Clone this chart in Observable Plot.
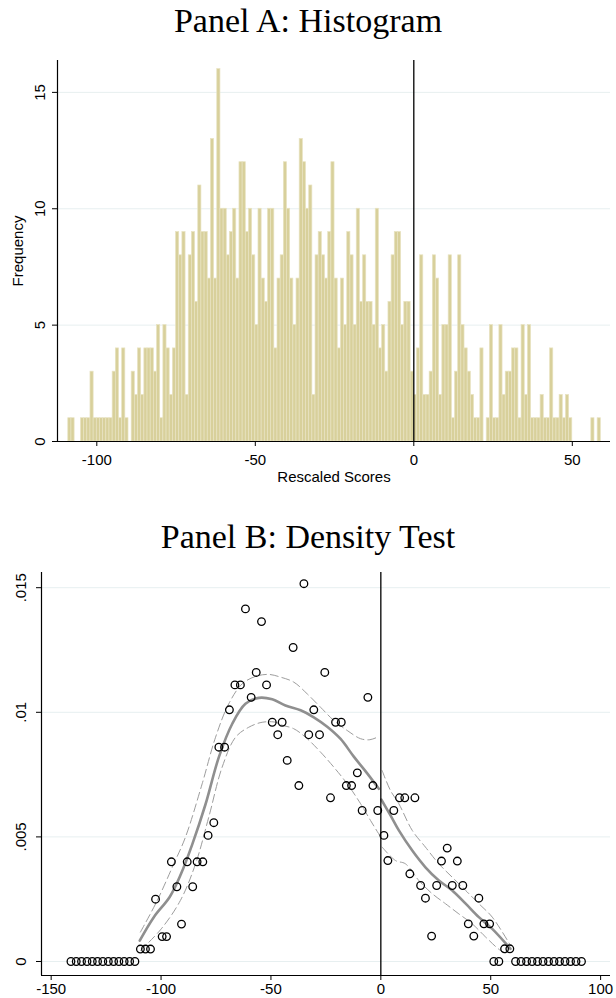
<!DOCTYPE html>
<html><head><meta charset="utf-8">
<script src="https://cdn.jsdelivr.net/npm/d3@7"></script>
<script src="https://cdn.jsdelivr.net/npm/@observablehq/plot@0.6"></script>
<style>
body{margin:0;background:#fff;width:616px;height:998px;position:relative;overflow:hidden}
.title{position:absolute;left:0;width:616px;text-align:center;font-family:"Liberation Serif","Times New Roman",serif;font-size:34px;color:#000;line-height:1;white-space:nowrap}
.panel{position:absolute;left:0}
</style></head><body>
<div class="title" style="top:4px">Panel A: Histogram</div>
<div id="a" class="panel" style="top:48px"></div>
<div class="title" style="top:520px">Panel B: Density Test</div>
<div id="b" class="panel" style="top:560px"></div>
<script>
// ---------- Panel A: histogram ----------
const histFirstBin = -109;   // left edge of first bin
const histBinWidth = 1;
const histCounts = [
  1,1,0,0,1,1,1,3,1,1, 1,1,1,1,3,4,1,4,1,0,   // -109 .. -90
  3,2,4,2,4,4,4,3,5,1, 5,4,2,4,9,8,9,2,8,9,   // -89 .. -70
  6,11,9,9,7,13,7,16,10,10, 8,9,10,7,12,12,9,10,8,5, // -69 .. -50
  10,7,6,10,10,4,7,8,12,10, 7,5,7,13,12,10,11,2,8,9, // -49 .. -30
  8,7,9,12,7,4,7,5,9,8, 5,10,6,8,6,6,5,10,4,5,   // -29 .. -10
  3,6,8,9,9,5,6,6,3,                             // -9 .. -1
  2,4,8,2,2,3,8,7,2,5, 5,8,1,3,8,5,4,3,2,1,       // 0 .. 19
  1,4,0,1,5,1,1,5,2,3, 3,4,4,1,5,2,5,1,1,1,       // 20 .. 39
  2,1,1,4,1,1,2,1,2,1, 0,0,0,0,0,0,1,0,1          // 40 .. 58
];
const freqTicks = [0, 5, 10, 15];
const scoreTicks = [-100, -50, 0, 50];
const cutoff = 0;

// ---------- Panel B: density test ----------
const densX = [
  -141.0,-138.6,-136.2,-133.7,-131.3,-128.9,-126.5,-124.0,-121.6,-119.2,-116.8,-114.3,-111.9,
  -109.4,-107.1,-104.8,-102.5,-99.5,-97.5,-95.3,-92.8,-90.7,-88.1,-85.6,-83.6,-81.0,-78.6,-76.0,
  -73.7,-71.1,-68.9,-66.4,-63.9,-61.6,-59.0,-56.7,-54.3,-52.0,-49.4,-46.9,-44.9,-42.6,-39.9,-37.3,
  -35.0,-32.8,-30.5,-27.9,-25.5,-22.9,-20.6,-18.0,-15.7,-13.3,-10.7,-8.5,-5.9,-3.6,-1.4,
  1.4,3.2,5.9,8.5,10.9,13.2,15.5,18.1,20.3,23.1,25.4,27.6,30.2,32.5,34.8,37.3,39.8,42.3,44.6,
  46.9,49.5,51.4,53.7,56.3,58.7,
  61.3,63.8,66.3,68.8,71.3,73.8,76.3,78.8,81.3,83.8,86.3,88.8,91.3
];
const densY = [
  0,0,0,0,0,0,0,0,0,0,0,0,0,
  .0005,.0005,.0005,.0025,.001,.001,.004,.003,.0015,.004,.003,.004,.004,.00506,.00557,
  .0086,.0086,.0101,.0111,.0111,.01415,.0106,.0116,.01364,.0111,.0096,.0091,.0096,.00807,.0126,.00706,
  .01516,.0091,.0101,.0091,.0116,.00657,.0096,.0096,.00706,.00706,.00757,.00606,.0106,.00706,.00606,
  .00506,.00405,.00606,.00657,.00657,.00352,.00657,.00305,.00254,.00102,.00305,.00403,.00455,.00305,.00403,.00305,.00151,.00102,.00254,
  .00151,.00151,0,0,.00051,.00051,
  0,0,0,0,0,0,0,0,0,0,0,0,0
];
const fitLeftX = [-109.7,-103.3,-96,-91,-85.8,-79.8,-73.7,-67.6,-61.6,-55.5,-49.4,-43.4,-36.5,-30.5,-24.4,-18.3,-12.3,-6.2,-0.9];
const fitLeftY = [.00084,.00178,.0026,.0035,.0047,.0063,.0082,.00954,.01034,.01058,.01052,.01027,.01008,.0098,.00942,.00893,.00822,.00755,.00693];
const hiLeftX = [-109.4,-102,-94.2,-88.9,-81.3,-75.2,-69.2,-63.1,-57,-51,-45.6,-39.6,-33.5,-27.4,-21.4,-15.3,-9.2,-5,-1.6];
const hiLeftY = [.00118,.0024,.00392,.00499,.00713,.009,.01034,.01114,.01144,.01152,.01141,.01121,.01074,.0102,.00967,.00927,.00894,.0089,.009];
const loLeftX = [-109.4,-100,-91.2,-84.3,-78.3,-72.2,-66.1,-60.1,-54,-47.9,-45.6,-39.6,-33.5,-27.4,-21.4,-15.3,-9.2,-4.7,-0.1];
const loLeftY = [.00044,.0013,.00245,.00392,.00579,.0078,.009,.0094,.0096,.0096,.0095,.00934,.00894,.0084,.0078,.00713,.00633,.00566,.005];
const fitRightX = [0.2,4.4,8.2,14.3,20.3,26.4,32.5,38.6,44.6,50.7,59];
const fitRightY = [.0065,.00586,.00526,.00445,.00378,.00325,.00285,.00232,.00178,.00131,.00051];
const hiRightX = [0.6,4.4,8.2,14.3,20.3,26.4,32.5,38.6,44.6,50.7,59];
const hiRightY = [.00766,.00686,.00633,.00526,.00459,.00392,.00338,.00285,.00232,.00178,.00064];
const loRightX = [0.6,6.7,11.2,17.3,23.4,29.4,35.5,41.6,47.7,54.5,58];
const loRightY = [.00459,.00405,.00392,.00325,.00272,.00232,.00191,.00151,.00098,.00044,.0003];
const densTicksX = [-150, -100, -50, 0, 50, 100];
const densTicksY = [0, .005, .01, .015];
const densTickLabelsY = ["0", ".005", ".01", ".015"];

// ---------- build ----------
const bars = histCounts.map((c, i) => ({x1: histFirstBin + i*histBinWidth, x2: histFirstBin + (i+1)*histBinWidth, count: c}));
const pts = densX.map((x, i) => ({x, y: densY[i]}));
const mk = (X, Y) => X.map((x, i) => ({x, y: Y[i]}));

const sans = "'Liberation Sans', Arial, Helvetica, sans-serif";
const gridColor = "#e7eff0";

const xDomA = [-112.4, 62.05];
const yDomA = [0, 16.37];
const plotA = Plot.plot({
  width: 616, height: 450,
  marginTop: 12, marginBottom: 57, marginLeft: 57, marginRight: 6,
  x: {domain: xDomA},
  y: {domain: yDomA},
  style: {fontFamily: sans, fontSize: "15px", color: "#000", background: "#fff", overflow: "visible"},
  marks: [
    Plot.gridY(freqTicks.filter(t => t > 0), {stroke: gridColor, strokeOpacity: 1}),
    Plot.rectY(bars.filter(b => b.count > 0), {x1: "x1", x2: "x2", y: "count", fill: "#d8d09b", stroke: "#e8e3c2", strokeWidth: 0.7}),
    Plot.ruleX([cutoff], {stroke: "#000", strokeWidth: 1.3}),
    Plot.ruleX([xDomA[0]], {stroke: "#000", strokeWidth: 1.2}),
    Plot.ruleY([yDomA[0]], {stroke: "#000", strokeWidth: 1.2}),
    Plot.axisX(scoreTicks, {tickSize: 5, tickPadding: 8, tickFormat: d => String(d), label: null, fontSize: 15}),
    Plot.axisY(freqTicks, {tickSize: 5, tickFormat: () => "", label: null}),
    Plot.text(freqTicks, {y: d => d, text: d => String(d), frameAnchor: "left", rotate: -90, dx: -17, textAnchor: "middle", lineAnchor: "middle", fontSize: 15}),
    Plot.text(["Frequency"], {text: d => d, frameAnchor: "left", rotate: -90, dx: -39, textAnchor: "middle", lineAnchor: "middle", fontSize: 15}),
    Plot.text(["Rescaled Scores"], {text: d => d, frameAnchor: "bottom", dy: 36, textAnchor: "middle", lineAnchor: "middle", fontSize: 15})
  ]
});
document.getElementById("a").appendChild(plotA);

const xDomB = [-154.4, 104.5];
const yDomB = [-0.000562, 0.01561];
const plotB = Plot.plot({
  width: 616, height: 438,
  marginTop: 12, marginBottom: 23, marginLeft: 41, marginRight: 6,
  x: {domain: xDomB},
  y: {domain: yDomB},
  style: {fontFamily: sans, fontSize: "15px", color: "#000", background: "#fff", overflow: "visible"},
  marks: [
    Plot.gridY(densTicksY, {stroke: gridColor, strokeOpacity: 1}),
    Plot.line(mk(hiLeftX, hiLeftY), {x: "x", y: "y", stroke: "#9d9d9d", strokeWidth: 1, strokeDasharray: "8,4", curve: "catmull-rom"}),
    Plot.line(mk(loLeftX, loLeftY), {x: "x", y: "y", stroke: "#9d9d9d", strokeWidth: 1, strokeDasharray: "8,4", curve: "catmull-rom"}),
    Plot.line(mk(hiRightX, hiRightY), {x: "x", y: "y", stroke: "#9d9d9d", strokeWidth: 1, strokeDasharray: "8,4", curve: "catmull-rom"}),
    Plot.line(mk(loRightX, loRightY), {x: "x", y: "y", stroke: "#9d9d9d", strokeWidth: 1, strokeDasharray: "8,4", curve: "catmull-rom"}),
    Plot.line(mk(fitLeftX, fitLeftY), {x: "x", y: "y", stroke: "#8f8f8f", strokeWidth: 2.6, curve: "catmull-rom"}),
    Plot.line(mk(fitRightX, fitRightY), {x: "x", y: "y", stroke: "#8f8f8f", strokeWidth: 2.6, curve: "catmull-rom"}),
    Plot.ruleX([cutoff], {stroke: "#000", strokeWidth: 1.3}),
    Plot.dot(pts, {x: "x", y: "y", r: 3.8, stroke: "#000", strokeWidth: 1.3, fill: "none"}),
    Plot.ruleX([xDomB[0]], {stroke: "#000", strokeWidth: 1.2}),
    Plot.ruleY([yDomB[0]], {stroke: "#000", strokeWidth: 1.2}),
    Plot.axisX(densTicksX, {tickSize: 5, tickPadding: 3, tickFormat: d => String(d), label: null, fontSize: 15}),
    Plot.axisY(densTicksY, {tickSize: 5, tickFormat: () => "", label: null}),
    Plot.text(densTicksY, {y: d => d, text: (d, i) => densTickLabelsY[i], frameAnchor: "left", rotate: -90, dx: -20, textAnchor: "middle", lineAnchor: "middle", fontSize: 15})
  ]
});
document.getElementById("b").appendChild(plotB);
</script>
</body></html>
